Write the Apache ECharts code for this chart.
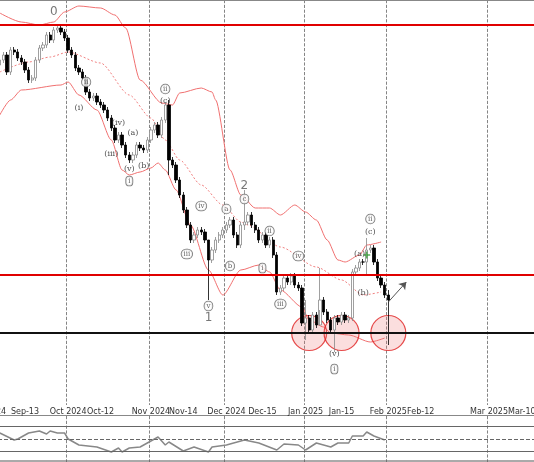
<!DOCTYPE html>
<html>
<head>
<meta charset="utf-8">
<script src="https://cdn.jsdelivr.net/npm/echarts@6/dist/echarts.min.js"></script>
<style>html,body{margin:0;padding:0;background:#fff}#c{width:534px;height:462px}</style>
</head>
<body>
<div id="c"></div>
<script>
// y values are read in screen units (top = small), axes are inverted
const closes = [60,55,72,50,52,58,62,70,80,78,
  60,48,45,35,40,30,28,32,38,50,
  55,68,72,78,92,98,96,102,105,110,
  118,128,140,135,145,155,160,155,145,148,
  150,140,130,125,135,120,105,160,165,180,
  195,210,225,240,235,230,232,240,260,250,
  240,235,230,225,220,235,245,225,222,215,
  225,230,240,235,
  245,240,255,292,288,278,282,276,285,288,
  323,318,330,315,325,300,312,320,330,318,
  322,315,320,318,272,268,262,262,250,248,
  262,278,285,295,300];
const firstOpen = 65;
// [index, top, bottom] for the long shadows
const longWicks = [[47,100,175],[58,250,300],[68,190,230],[85,300,340],[89,268,310],[93,315,352],[102,238,275],[108,290,345]];

const upperBand = [[0,13],[6,22],[11,25],[15,22],[18,12],[22,6],[28,8],[32,15],[35,28],[39,80],[45,103],[48,105],[50,93],[56,88],[59,92],[60,100],[64,170],[67,195],[71,208],[75,208],[78,215],[82,205],[85,212],[88,220],[91,240],[94,260],[96,262],[100,255],[102,245],[106,242]];
const middleBand = [[0,72],[8,62],[14,57],[19,52],[28,63],[36,95],[42,118],[46,140],[50,160],[56,185],[62,205],[67,222],[69,225],[78,247],[88,267],[95,280],[101,295],[106,292]];
const lowerBand = [[0,115],[3,100],[6,90],[17,85],[19,82],[22,95],[27,110],[31,140],[34,170],[36,175],[39,172],[42,168],[44,163],[46,170],[49,190],[53,225],[58,270],[62,295],[67,270],[72,265],[75,272],[78,290],[84,307],[86,320],[90,327],[92,333],[97,335],[103,342],[107,338]];

const rsi = [[0,433],[4,440],[5,439],[8,433],[11,431],[13,434],[14,431],[16,433],[18,433],[19,439],[22,445],[27,447],[31,452],[33,448],[34,452],[36,448],[39,447],[42,441],[44,437],[46,445],[47,442],[51,451],[54,447],[58,452],[59,447],[63,445],[68,440],[72,443],[77,450],[79,444],[83,445],[85,450],[88,443],[92,447],[94,443],[97,443],[98,436],[101,436],[102,432],[104,436],[107,440]];

const circledLabels = [[24,82,'ii'],[36,181,'i'],[46,89,'ii'],[52,254,'iii'],[56,206,'iv'],[63,209,'a'],[64,266,'b'],[58,306,'v'],[68,199,'c'],[75,231,'ii'],[73,268,'i'],[78,304,'iii'],[83,256,'iv'],[93,369,'i'],[103,219,'ii']];
const plainLabels = [[22,108,'(i)'],[31,154,'(iii)'],[33,123,'(iv)'],[37,133,'(a)'],[36,169,'(v)'],[40,166,'(b)'],[46,101,'(c)'],[93,354,'(v)'],[100,254,'(a)'],[101,293,'(b)'],[103,232,'(c)']];
const bigLabels = [[15,12,'0'],[58,318,'1'],[68,186,'2']];
const circles = [[86,333],[95,333],[108,333]];
const levels = [25,275];
const supportLevel = 333;

const tickLabels = {'2024-09-13':'Sep-13','2024-10-01':'Oct 2024','2024-10-14':'Oct-12','2024-11-01':'Nov 2024','2024-11-14':'Nov-14','2024-12-02':'Dec 2024','2024-12-16':'Dec-15','2025-01-01':'Jan 2025','2025-01-15':'Jan-15','2025-02-03':'Feb 2025','2025-02-12':'Feb-12','2025-03-03':'Mar 2025','2025-03-10':'Mar-10'};
const monthStarts = ['2024-10-01','2024-11-01','2024-12-02','2025-01-01','2025-02-03','2025-03-03'];

// weekdays up to the last bar, then calendar days for the empty right side
const dates = [];
const fmt = d => d.toISOString().slice(0, 10);
for (let d = new Date('2024-09-04T00:00:00Z'); d <= new Date('2025-03-20T00:00:00Z'); d.setUTCDate(d.getUTCDate() + 1)) {
  const wd = d.getUTCDay();
  if (d <= new Date('2025-02-03T00:00:00Z') && (wd === 0 || wd === 6)) continue;
  dates.push(fmt(d));
}

const candles = closes.map((c, i) => {
  const o = i === 0 ? firstOpen : closes[i - 1];
  let top = Math.min(o, c) - 3, bottom = Math.max(o, c) + 3;
  const w = longWicks.find(x => x[0] === i);
  if (w) { top = w[1]; bottom = w[2]; }
  return [o, c, top, bottom];
});

const chart = echarts.init(document.getElementById('c'));
const gridLine = { show: true, interval: (i, v) => monthStarts.includes(v), lineStyle: { type: 'dashed', color: '#666', width: 0.8 } };
const band = (data, type, color) => ({
  type: 'line', data, showSymbol: false, smooth: 0.25, smoothMonotone: 'x',
  lineStyle: { color, width: 1, type }, z: 1
});

chart.setOption({
  animation: false,
  backgroundColor: '#fff',
  grid: [
    { left: -2, right: -18, top: 0, height: 405, outerBoundsMode: 'none' },
    { left: -2, right: -18, top: 416, height: 46, outerBoundsMode: 'none' }
  ],
  xAxis: [
    {
      type: 'category', data: dates, gridIndex: 0,
      axisLine: { lineStyle: { color: '#888' } },
      axisTick: { interval: (i, v) => v in tickLabels, length: 3, lineStyle: { color: '#666' } },
      axisLabel: { interval: (i, v) => v in tickLabels, formatter: v => tickLabels[v] || '', fontSize: 8, color: '#333', margin: 3, fontFamily: 'DejaVu Sans', hideOverlap: false },
      splitLine: gridLine
    },
    {
      type: 'category', data: dates, gridIndex: 1,
      axisLine: { show: false }, axisTick: { show: false }, axisLabel: { show: false },
      splitLine: gridLine
    }
  ],
  yAxis: [
    { type: 'value', gridIndex: 0, inverse: true, min: 0, max: 405, show: false },
    { type: 'value', gridIndex: 1, inverse: true, min: 416, max: 462, show: false }
  ],
  graphic: [
    { type: 'line', shape: { x1: 0, y1: 415.5, x2: 534, y2: 415.5 }, style: { stroke: '#888', lineWidth: 1 } },
    { type: 'line', shape: { x1: 0, y1: 461, x2: 534, y2: 461 }, style: { stroke: '#555', lineWidth: 1 } },
    { type: 'text', left: -4, top: 408, style: { text: '24', fontSize: 8, fill: '#333', fontFamily: 'DejaVu Sans' } },
    { type: 'text', left: 508, top: 408, style: { text: 'Mar-10', fontSize: 8, fill: '#333', fontFamily: 'DejaVu Sans' } }
  ],
  series: [
    band(upperBand, 'solid', '#f07070'),
    band(middleBand, [2, 2], '#f08080'),
    band(lowerBand, 'solid', '#f07070'),
    {
      type: 'scatter', data: circles, symbolSize: 35, z: 2,
      itemStyle: { color: 'rgba(240,120,120,0.3)', borderColor: '#e02020', borderWidth: 1.2 }
    },
    {
      type: 'candlestick', data: candles, barWidth: 2.8, z: 3,
      itemStyle: { color: '#000', borderColor: '#000', color0: '#fff', borderColor0: '#888', borderWidth: 0.8 },
      markLine: {
        silent: true, symbol: 'none', label: { show: false },
        data: [
          ...levels.map(v => ({ yAxis: v, lineStyle: { color: '#e00000', width: 2, type: 'solid' } })),
          { yAxis: supportLevel, lineStyle: { color: '#111', width: 2, type: 'solid' } },
          [{ coord: [108, 302], symbol: 'none', lineStyle: { color: '#555', width: 1, type: 'solid' } },
           { coord: [113, 282], symbol: 'arrow', symbolSize: 7 }]
        ]
      }
    },
    {
      type: 'scatter', data: [[102, 255]], symbol: 'path://M0,4H10V6H0zM4,0H6V10H4z', symbolSize: 7,
      itemStyle: { color: '#2a9a2a' }, z: 5
    },
    {
      type: 'scatter', data: circledLabels.map(d => ({ value: [d[0], d[1]], name: d[2] })), symbolSize: 0, z: 6,
      label: { show: true, position: 'inside', formatter: p => p.name, fontSize: 7, fontFamily: 'DejaVu Serif', color: '#333', backgroundColor: '#fff', borderColor: '#555', borderWidth: 0.8, borderRadius: 7, padding: [1, 2] }
    },
    {
      type: 'scatter', data: plainLabels.map(d => ({ value: [d[0], d[1]], name: d[2] })), symbolSize: 0, z: 6,
      label: { show: true, position: 'inside', formatter: p => p.name, fontSize: 8, fontFamily: 'DejaVu Serif', color: '#222' }
    },
    {
      type: 'scatter', data: bigLabels.map(d => ({ value: [d[0], d[1]], name: d[2] })), symbolSize: 0, z: 6,
      label: { show: true, position: 'inside', formatter: p => p.name, fontSize: 12, fontFamily: 'DejaVu Sans', color: '#555' }
    },
    {
      type: 'line', xAxisIndex: 1, yAxisIndex: 1, data: rsi, showSymbol: false,
      lineStyle: { color: '#888', width: 1.5 },
      markLine: {
        silent: true, symbol: 'none', label: { show: false },
        data: [
          { yAxis: 426, lineStyle: { color: '#666', width: 1, type: 'solid' } },
          { yAxis: 439, lineStyle: { color: '#666', width: 1, type: 'dashed' } },
          { yAxis: 451, lineStyle: { color: '#666', width: 1, type: 'solid' } }
        ]
      }
    }
  ]
});
</script>
</body>
</html>
